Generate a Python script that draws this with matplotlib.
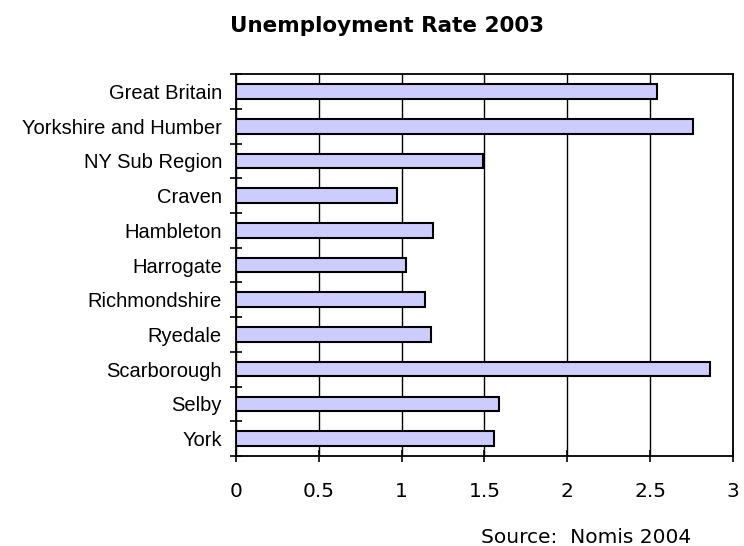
import matplotlib
matplotlib.use("Agg")
import matplotlib.pyplot as plt
import numpy as np

areas = ["Great Britain", "Yorkshire and Humber", "NY Sub Region", "Craven",
         "Hambleton", "Harrogate", "Richmondshire", "Ryedale", "Scarborough",
         "Selby", "York"]
rates = [2.54, 2.76, 1.49, 0.97, 1.19, 1.03, 1.14, 1.18, 2.86, 1.59, 1.56]
x_ticks = [0, 0.5, 1, 1.5, 2, 2.5, 3]
x_labels = ["0", "0.5", "1", "1.5", "2", "2.5", "3"]

fig = plt.figure(figsize=(7.44, 5.46), dpi=100)
ax = fig.add_axes([0.317, 0.165, 0.668, 0.699])

pos = np.arange(len(areas))
ax.barh(pos, rates, height=0.42, color="#CCCCFF", edgecolor="black",
        linewidth=1.5, zorder=3)

ax.set_xlim(0, 3)
ax.set_ylim(len(areas) - 0.5, -0.5)

ax.set_xticks(x_ticks)
ax.set_xticklabels(x_labels, fontsize=14.5, family="DejaVu Sans")
ax.xaxis.grid(True, color="black", linewidth=1.0, zorder=0)
ax.tick_params(axis="x", direction="inout", length=8, width=1.2, pad=15)

# category boundaries get the ticks, names sit between them
ax.set_yticks(np.arange(len(areas) + 1) - 0.5)
ax.set_yticklabels([])
ax.set_yticks(pos, minor=True)
ax.set_yticklabels(areas, minor=True, fontsize=14.5, family="Liberation Sans")
ax.tick_params(axis="y", which="major", direction="inout", length=8, width=1.2)
ax.tick_params(axis="y", which="minor", length=0, pad=10)

for s in ax.spines.values():
    s.set_linewidth(1.3)

fig.text(0.52, 0.952, "Unemployment Rate 2003", ha="center", va="center",
         fontsize=15.5, fontweight="bold", family="DejaVu Sans")
fig.text(0.788, 0.016, "Source:  Nomis 2004", ha="center", va="center",
         fontsize=14.5, family="DejaVu Sans")

fig.savefig("out.png", dpi=100)
